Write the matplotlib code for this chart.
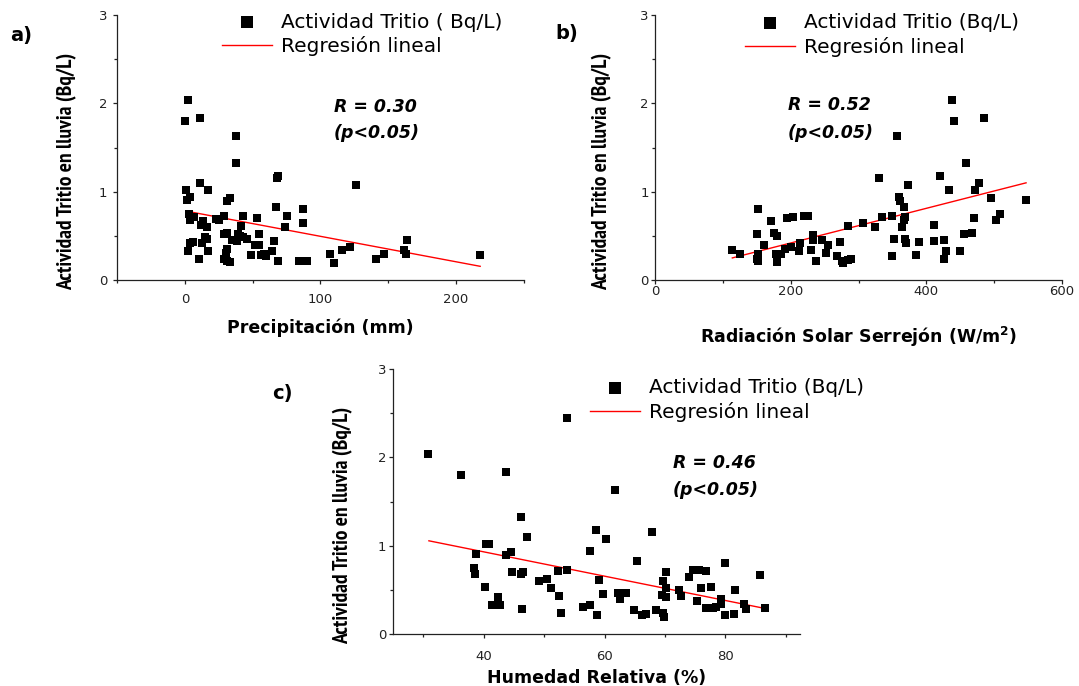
import matplotlib
matplotlib.use('Agg')
import matplotlib.pyplot as plt
from matplotlib.ticker import MultipleLocator
from matplotlib import font_manager

# ---------------- data ----------------
precip = [2, 0.3, 11, 38, 38, 69, 68, 126, 11, 1, 17, 1.5, 4, 31, 33, 67, 87, 87, 75, 74,
          43, 53, 28.5, 23, 3, 4, 7, 13.5, 12, 16, 41, 29, 31, 39, 55, 15, 16, 12.5, 3.5, 6,
          43, 46, 35, 38.5, 52, 54.5, 66, 2, 17, 31, 30, 48.5, 56, 58, 60, 64, 10.5, 29, 31, 33,
          69, 84, 90, 107, 110, 116, 122, 141, 147, 162, 163, 164, 218, 25, 40.5]
tritio_a = [2.04, 1.80, 1.83, 1.63, 1.32, 1.18, 1.15, 1.07, 1.10, 1.02, 1.02, 0.91, 0.94, 0.90, 0.93,
            0.83, 0.80, 0.65, 0.73, 0.60, 0.72, 0.70, 0.73, 0.69, 0.75, 0.68, 0.71, 0.67, 0.62, 0.60,
            0.61, 0.52, 0.535, 0.52, 0.52, 0.49, 0.46, 0.42, 0.42, 0.43, 0.49, 0.46, 0.45, 0.44, 0.40,
            0.40, 0.44, 0.33, 0.33, 0.35, 0.31, 0.28, 0.28, 0.30, 0.27, 0.33, 0.235, 0.235, 0.22, 0.20,
            0.21, 0.21, 0.21, 0.30, 0.19, 0.34, 0.37, 0.24, 0.30, 0.34, 0.30, 0.45, 0.28, 0.68, 0.50]
reg_a_x = [0.8, 218]
reg_a_y = [0.78, 0.155]

radiacion = [114, 125, 152, 151, 152, 151, 152, 161, 171.5, 175, 180, 178, 180, 186, 192, 194, 204,
             200, 213, 214, 220, 226, 230, 233.5, 233.5, 237, 246, 252, 255, 268.5, 272.5, 275, 276.5,
             284, 289, 285, 307, 325, 330, 335, 350, 353, 350, 357, 360, 361.5, 367.5, 363.5, 366.5,
             369, 369, 370, 373.5, 385, 389, 411, 412, 420, 426, 426, 429, 434, 438, 441.5, 449,
             455, 459, 467.5, 470.5, 471.5, 477, 485, 495, 502, 509, 547.5]
tritio_b = [0.34, 0.30, 0.80, 0.52, 0.30, 0.24, 0.21, 0.40, 0.67, 0.53, 0.50, 0.30, 0.20, 0.29, 0.35,
            0.70, 0.71, 0.37, 0.33, 0.42, 0.73, 0.72, 0.34, 0.505, 0.45, 0.21, 0.45, 0.31, 0.40, 0.27,
            0.43, 0.22, 0.19, 0.23, 0.235, 0.61, 0.65, 0.60, 1.15, 0.71, 0.73, 0.46, 0.27, 1.63, 0.94,
            0.90, 0.83, 0.60, 0.68, 0.71, 0.46, 0.42, 1.07, 0.28, 0.43, 0.44, 0.62, 1.18, 0.45, 0.24,
            0.33, 1.02, 2.04, 1.80, 0.33, 0.52, 1.32, 0.53, 0.70, 1.02, 1.10, 1.83, 0.93, 0.68, 0.75,
            0.91]
reg_b_x = [114, 547]
reg_b_y = [0.25, 1.10]

humedad = [30.7, 36.2, 43.7, 53.7, 61.8, 46.2, 47.1, 58.6, 60.3, 67.9, 40.3, 40.8, 38.7, 43.7, 44.5,
           57.5, 38.3, 38.5, 44.7, 46.2, 46.5, 52.3, 53.8, 49.2, 50.5, 59.1, 40.2, 51.2, 42.3, 41.3,
           42.6, 46.3, 52.5, 52.8, 56.5, 57.6, 58.7, 59.7, 62.2, 62.5, 63.5, 65.3, 64.9, 66.2, 66.9,
           68.5, 69.5, 69.7, 70.2, 70.1, 70.1, 69.6, 69.8, 72.3, 72.7, 74.0, 74.6, 75.7, 76.8, 76.0,
           75.3, 77.7, 76.8, 78.0, 78.5, 79.3, 79.3, 79.9, 80.0, 81.4, 81.6, 83.1, 83.5, 85.7, 86.5]
tritio_c = [2.04, 1.80, 1.83, 2.44, 1.63, 1.32, 1.10, 1.18, 1.07, 1.15, 1.02, 1.02, 0.91, 0.90, 0.93,
            0.94, 0.75, 0.68, 0.70, 0.68, 0.70, 0.71, 0.73, 0.60, 0.62, 0.61, 0.53, 0.52, 0.42, 0.33,
            0.33, 0.28, 0.43, 0.24, 0.31, 0.33, 0.21, 0.45, 0.46, 0.40, 0.46, 0.83, 0.27, 0.22, 0.23,
            0.27, 0.44, 0.60, 0.70, 0.52, 0.42, 0.24, 0.19, 0.50, 0.43, 0.65, 0.73, 0.72, 0.71, 0.52,
            0.37, 0.53, 0.29, 0.30, 0.31, 0.40, 0.34, 0.80, 0.21, 0.23, 0.50, 0.34, 0.28, 0.67, 0.30]
reg_c_x = [30.9, 86.5]
reg_c_y = [1.055, 0.29]

ylabel = 'Actividad Tritio en lluvia (Bq/L)'
xlabels = ['Precipitación (mm)', r'Radiación Solar Serrejón (W/m$^{\mathbf{2}}$)', 'Humedad Relativa (%)']
leg_scatter = ['Actividad Tritio ( Bq/L)', 'Actividad Tritio (Bq/L)', 'Actividad Tritio (Bq/L)']
leg_line = 'Regresión lineal'
r_texts = ['R = 0.30', 'R = 0.52', 'R = 0.46']
p_text = '(p<0.05)'
panel_letters = ['a)', 'b)', 'c)']

# ---------------- figure ----------------
W, H = 1079, 686
fig = plt.figure(figsize=(W / 100, H / 100), dpi=100)
fig.patch.set_facecolor('white')

ylab_family, ylab_size = 'DejaVu Sans', 10
for fam, size in (('PT Sans Narrow', 15.5), ('Archivo Narrow', 14), ('Liberation Sans Narrow', 14)):
    try:
        font_manager.findfont(font_manager.FontProperties(family=fam, weight='bold'),
                              fallback_to_default=False)
        ylab_family, ylab_size = fam, size
        break
    except Exception:
        pass


def axes_px(left, right, top, bottom):
    return fig.add_axes([left / W, 1 - bottom / H, (right - left) / W, (bottom - top) / H])


def style(ax, xlim, xmaj, xmin, xpad, ypad):
    ax.set_xlim(*xlim)
    ax.set_ylim(0, 3)
    ax.spines['top'].set_visible(False)
    ax.spines['right'].set_visible(False)
    for s in ('left', 'bottom'):
        ax.spines[s].set_linewidth(0.9)
        ax.spines[s].set_color('#222222')
    ax.xaxis.set_major_locator(MultipleLocator(xmaj))
    ax.xaxis.set_minor_locator(MultipleLocator(xmin))
    ax.yaxis.set_major_locator(MultipleLocator(1))
    ax.yaxis.set_minor_locator(MultipleLocator(0.5))
    ax.tick_params(which='major', length=3, width=0.9, direction='out',
                   labelsize=9.5, colors='#222222')
    ax.tick_params(which='minor', length=2, width=0.9, direction='out', colors='#222222')
    ax.tick_params(axis='x', which='major', pad=xpad)
    ax.tick_params(axis='y', which='major', pad=ypad)


panels = [
    dict(box=(117.3, 523.5, 15, 280), xlim=(-50, 250), xmaj=100, xmin=50, xpad=6.5, ypad=4.3,
         x=precip, y=tritio_a, rx=reg_a_x, ry=reg_a_y, xl_y=328, leg_x=222, leg_top=12.5,
         r_x=334, r_y=106.5, let=(10, 35), ylab_x=-0.099),
    dict(box=(655, 1062, 15, 280), xlim=(0, 600), xmaj=200, xmin=100, xpad=0.8, ypad=1.6,
         x=radiacion, y=tritio_b, rx=reg_b_x, ry=reg_b_y, xl_y=337, leg_x=745, leg_top=13.5,
         r_x=788, r_y=105.5, let=(555, 34), ylab_x=-0.106),
    dict(box=(393.3, 799.6, 369, 634), xlim=(25, 92.3), xmaj=20, xmin=10, xpad=8.4, ypad=2.0,
         x=humedad, y=tritio_c, rx=reg_c_x, ry=reg_c_y, xl_y=678, leg_x=590, leg_top=378,
         r_x=673, r_y=463, let=(272, 393), ylab_x=-0.099),
]

for i, p in enumerate(panels):
    ax = axes_px(*p['box'])
    style(ax, p['xlim'], p['xmaj'], p['xmin'], p['xpad'], p['ypad'])
    sc = ax.scatter(p['x'], p['y'], marker='s', s=26, c='black', linewidths=0, zorder=3)
    ln, = ax.plot(p['rx'], p['ry'], color='red', lw=1.0, zorder=2)

    left, right, top, bottom = p['box']
    ax.set_ylabel(ylabel, family=[ylab_family, 'DejaVu Sans'], fontsize=ylab_size, fontweight='bold')
    ax.yaxis.set_label_coords(p['ylab_x'], 0.41)
    ax.set_xlabel(xlabels[i], fontsize=12.5, fontweight='bold')
    ax.xaxis.set_label_coords(0.5, -(p['xl_y'] - bottom) / (bottom - top))
    ax.xaxis.label.set_va('center')

    ax.legend([sc, ln], [leg_scatter[i], leg_line], loc='upper left',
              bbox_to_anchor=(p['leg_x'] / W, 1 - p['leg_top'] / H),
              bbox_transform=fig.transFigure, frameon=False, fontsize=14.5,
              handlelength=2.5, handletextpad=0.42, labelspacing=0.24,
              borderpad=0, borderaxespad=0, scatterpoints=1, markerscale=1.8)

    fig.text(p['r_x'] / W, 1 - p['r_y'] / H, r_texts[i], fontsize=12.5, fontweight='bold',
             style='italic', ha='left', va='center')
    fig.text(p['r_x'] / W, 1 - (p['r_y'] + 27) / H, p_text, fontsize=12.5, fontweight='bold',
             style='italic', ha='left', va='center')
    fig.text(p['let'][0] / W, 1 - p['let'][1] / H, panel_letters[i], fontsize=14,
             fontweight='bold', ha='left', va='center')

fig.savefig('out.png', dpi=100, facecolor='white')
